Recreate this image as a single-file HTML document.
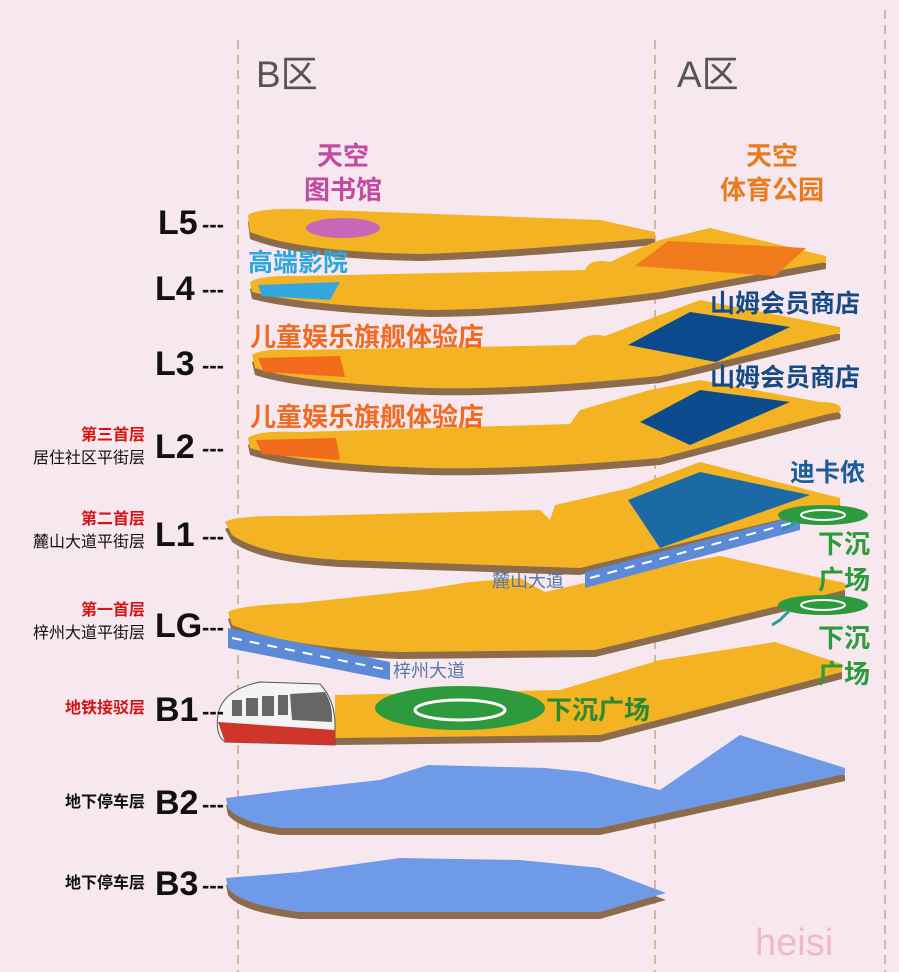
<!DOCTYPE html>
<html><head><meta charset="utf-8"><style>
html,body{margin:0;padding:0;background:#f6e8ee;}
svg{display:block}
text{font-family:"Liberation Sans","Noto Sans CJK SC",sans-serif;}
</style></head><body>
<svg width="899" height="972" viewBox="0 0 899 972" xmlns="http://www.w3.org/2000/svg">
<rect width="899" height="972" fill="#f6e8ee"/>
<g stroke="#c9a58a" stroke-width="1.5" stroke-dasharray="9,6">
<line x1="238" y1="40" x2="238" y2="972"/>
<line x1="655" y1="40" x2="655" y2="972"/>
<line x1="885" y1="10" x2="885" y2="972"/>
</g>
<text x="256" y="87" font-size="37" fill="#555">B区</text>
<text x="677" y="87" font-size="37" fill="#555">A区</text>
<g font-weight="bold" font-size="26" text-anchor="middle">
<text x="343" y="165" fill="#c24aa0">天空</text>
<text x="343" y="199" fill="#c24aa0">图书馆</text>
<text x="772" y="165" fill="#e87b1e">天空</text>
<text x="772" y="199" fill="#e87b1e">体育公园</text>
</g>

<!-- shadows -->
<g fill="#8d6c4c">
<path transform="translate(0,7)" d="M248,215 Q258,208 300,209 L600,220 L655,232 L655,238 Q500,252 420,254 Q300,252 250,232 Z"/>
<path transform="translate(0,7)" d="M250,282 Q260,275 300,276 L585,270 Q590,258 610,262 L640,248 L660,240 L710,228 L826,256 L826,262 L660,292 Q520,310 430,310 Q300,305 252,292 Z"/>
<path transform="translate(0,7)" d="M252,355 Q262,348 300,350 L575,345 Q585,332 605,336 L660,315 L700,300 L840,327 L840,333 L660,376 Q520,390 430,388 Q300,383 255,368 Z"/>
<path transform="translate(0,7)" d="M248,438 Q258,430 300,432 L570,424 L580,410 L650,390 L700,380 L820,402 Q845,402 840,412 L828,414 L660,458 Q520,470 430,468 Q300,464 250,448 Z"/>
<path transform="translate(0,7)" d="M225,522 Q235,515 300,516 L540,510 L550,520 L555,505 L630,488 L700,462 L840,498 L840,505 L580,568 L340,560 Q260,555 232,535 Z"/>
<path transform="translate(0,7)" d="M228,612 Q240,605 300,603 L420,590 L470,582 L520,578 L545,592 L650,568 L720,556 L845,583 L845,590 L595,650 L400,652 Q290,648 232,625 Z"/>
<path transform="translate(0,7)" d="M335,695 L560,690 L660,660 L775,642 L842,664 L842,672 L600,735 L335,738 Z"/>
<path transform="translate(0,7)" d="M226,798 L290,790 L380,780 L428,765 L545,768 L585,772 L660,790 L740,735 L845,768 L845,774 L600,828 L280,828 Q240,822 228,808 Z"/>
<path transform="translate(0,7)" d="M226,878 L300,872 L400,858 L520,860 L600,868 L666,893 L600,912 L300,912 Q240,905 228,888 Z"/>
</g>
<!-- slabs -->
<g fill="#f3b322">
<path d="M248,215 Q258,208 300,209 L600,220 L655,232 L655,238 Q500,252 420,254 Q300,252 250,232 Z"/>
<path d="M250,282 Q260,275 300,276 L585,270 Q590,258 610,262 L640,248 L660,240 L710,228 L826,256 L826,262 L660,292 Q520,310 430,310 Q300,305 252,292 Z"/>
<path d="M252,355 Q262,348 300,350 L575,345 Q585,332 605,336 L660,315 L700,300 L840,327 L840,333 L660,376 Q520,390 430,388 Q300,383 255,368 Z"/>
<path d="M248,438 Q258,430 300,432 L570,424 L580,410 L650,390 L700,380 L820,402 Q845,402 840,412 L828,414 L660,458 Q520,470 430,468 Q300,464 250,448 Z"/>
<path d="M225,522 Q235,515 300,516 L540,510 L550,520 L555,505 L630,488 L700,462 L840,498 L840,505 L580,568 L340,560 Q260,555 232,535 Z"/>
<path d="M228,612 Q240,605 300,603 L420,590 L470,582 L520,578 L545,592 L650,568 L720,556 L845,583 L845,590 L595,650 L400,652 Q290,648 232,625 Z"/>
<path d="M335,695 L560,690 L660,660 L775,642 L842,664 L842,672 L600,735 L335,738 Z"/>
</g>
<g fill="#6f9ae8">
<path d="M226,798 L290,790 L380,780 L428,765 L545,768 L585,772 L660,790 L740,735 L845,768 L845,774 L600,828 L280,828 Q240,822 228,808 Z"/>
<path d="M226,878 L300,872 L400,858 L520,860 L600,868 L666,893 L600,912 L300,912 Q240,905 228,888 Z"/>
</g>
<!-- features -->
<ellipse cx="343" cy="228" rx="37" ry="10" fill="#c768b6"/>
<path d="M258,285 L340,282 L330,300 L262,296 Z" fill="#33a7e0"/>
<path d="M635,266 L668,241 L806,248 L775,276 Z" fill="#ef7b1b"/>
<path d="M258,358 L340,356 L345,377 L264,372 Z" fill="#f26a1c"/>
<path d="M628,345 L690,312 L790,327 L716,362 Z" fill="#0c4a8e"/>
<path d="M256,440 L336,438 L340,460 L262,454 Z" fill="#f26a1c"/>
<path d="M640,422 L700,390 L790,402 L690,445 Z" fill="#0d4b8f"/>
<path d="M628,500 L700,472 L810,495 L660,548 Z" fill="#1b6aa5"/>
<!-- roads -->
<path d="M585,572 L800,515 L800,530 L585,588 Z" fill="#5d8ad6"/>
<path d="M590,578 L795,522" stroke="#fff" stroke-width="2" stroke-dasharray="10,8"/>
<path d="M228,628 L390,662 L390,680 L228,648 Z" fill="#5d8ad6"/>
<path d="M232,638 L388,670" stroke="#fff" stroke-width="2" stroke-dasharray="10,8"/>
<!-- sunken plazas -->
<ellipse cx="823" cy="515" rx="45" ry="10" fill="#2e9a3e"/>
<ellipse cx="823" cy="515" rx="22" ry="5" fill="none" stroke="#fff" stroke-width="2"/>
<ellipse cx="823" cy="605" rx="45" ry="10" fill="#2e9a3e"/>
<ellipse cx="823" cy="605" rx="22" ry="5" fill="none" stroke="#fff" stroke-width="2"/>
<path d="M782,530 L792,525 L795,520" stroke="#2e9a9a" stroke-width="3" fill="none"/>
<path d="M772,625 L780,620 L790,610" stroke="#2e9a9a" stroke-width="3" fill="none"/>
<ellipse cx="460" cy="708" rx="85" ry="22" fill="#2e9a3e"/>
<ellipse cx="460" cy="710" rx="45" ry="10" fill="none" stroke="#fff" stroke-width="3"/>
<!-- train -->
<g>
<path d="M218,715 Q222,690 260,682 L320,684 Q335,700 335,725 L335,745 L225,742 Q215,735 218,715 Z" fill="#f4f4f4" stroke="#555" stroke-width="1"/>
<path d="M218,722 L335,730 L335,745 L225,742 Z" fill="#d0352b"/>
<path d="M290,694 L325,692 Q333,705 332,722 L292,720 Z" fill="#666"/>
<g fill="#666"><rect x="232" y="700" width="10" height="16"/><rect x="246" y="698" width="12" height="18"/><rect x="262" y="696" width="12" height="20"/><rect x="278" y="695" width="10" height="20"/></g>
</g>
<!-- texts -->
<g font-weight="bold" font-size="26">
<text x="248" y="271" fill="#2ea6df" font-size="25">高端影院</text>
<text x="250" y="346" fill="#ef6a23">儿童娱乐旗舰体验店</text>
<text x="250" y="426" fill="#ef6a23">儿童娱乐旗舰体验店</text>
<text x="710" y="312" fill="#144a86" font-size="25">山姆会员商店</text>
<text x="710" y="386" fill="#144a86" font-size="25">山姆会员商店</text>
<text x="790" y="481" fill="#1d5e9a" font-size="25">迪卡侬</text>
<text x="818" y="553" fill="#2e9a3e">下沉</text>
<text x="818" y="589" fill="#2e9a3e">广场</text>
<text x="818" y="647" fill="#2e9a3e">下沉</text>
<text x="818" y="683" fill="#2e9a3e">广场</text>
<text x="546" y="719" fill="#2e8a30">下沉广场</text>
</g>
<text x="492" y="587" font-size="18" fill="#5577aa">麓山大道</text>
<text x="393" y="677" font-size="18" fill="#5577aa">梓州大道</text>
<!-- floor labels -->
<g font-weight="bold" font-size="34" fill="#111">
<text x="158" y="234">L5</text>
<text x="155" y="300">L4</text>
<text x="155" y="375">L3</text>
<text x="155" y="458">L2</text>
<text x="155" y="546">L1</text>
<text x="155" y="637">LG</text>
<text x="155" y="721">B1</text>
<text x="155" y="814">B2</text>
<text x="155" y="895">B3</text>
</g>
<g font-size="22" fill="#111" font-weight="bold">
<text x="202" y="232">---</text>
<text x="202" y="297">---</text>
<text x="202" y="373">---</text>
<text x="202" y="456">---</text>
<text x="202" y="544">---</text>
<text x="202" y="635">---</text>
<text x="202" y="719">---</text>
<text x="202" y="812">---</text>
<text x="202" y="893">---</text>
</g>
<g text-anchor="end" font-size="16">
<text x="145" y="440" fill="#d41414" font-weight="bold">第三首层</text>
<text x="145" y="463" fill="#111">居住社区平街层</text>
<text x="145" y="524" fill="#d41414" font-weight="bold">第二首层</text>
<text x="145" y="547" fill="#111">麓山大道平街层</text>
<text x="145" y="615" fill="#d41414" font-weight="bold">第一首层</text>
<text x="145" y="638" fill="#111">梓州大道平街层</text>
<text x="145" y="713" fill="#d41414" font-weight="bold">地铁接驳层</text>
<text x="145" y="807" fill="#111" font-weight="bold">地下停车层</text>
<text x="145" y="888" fill="#111" font-weight="bold">地下停车层</text>
</g>
<text x="755" y="955" font-size="38" fill="#f0b8c8" font-family="Liberation Serif,serif">heisi</text>
</svg>
</body></html>
